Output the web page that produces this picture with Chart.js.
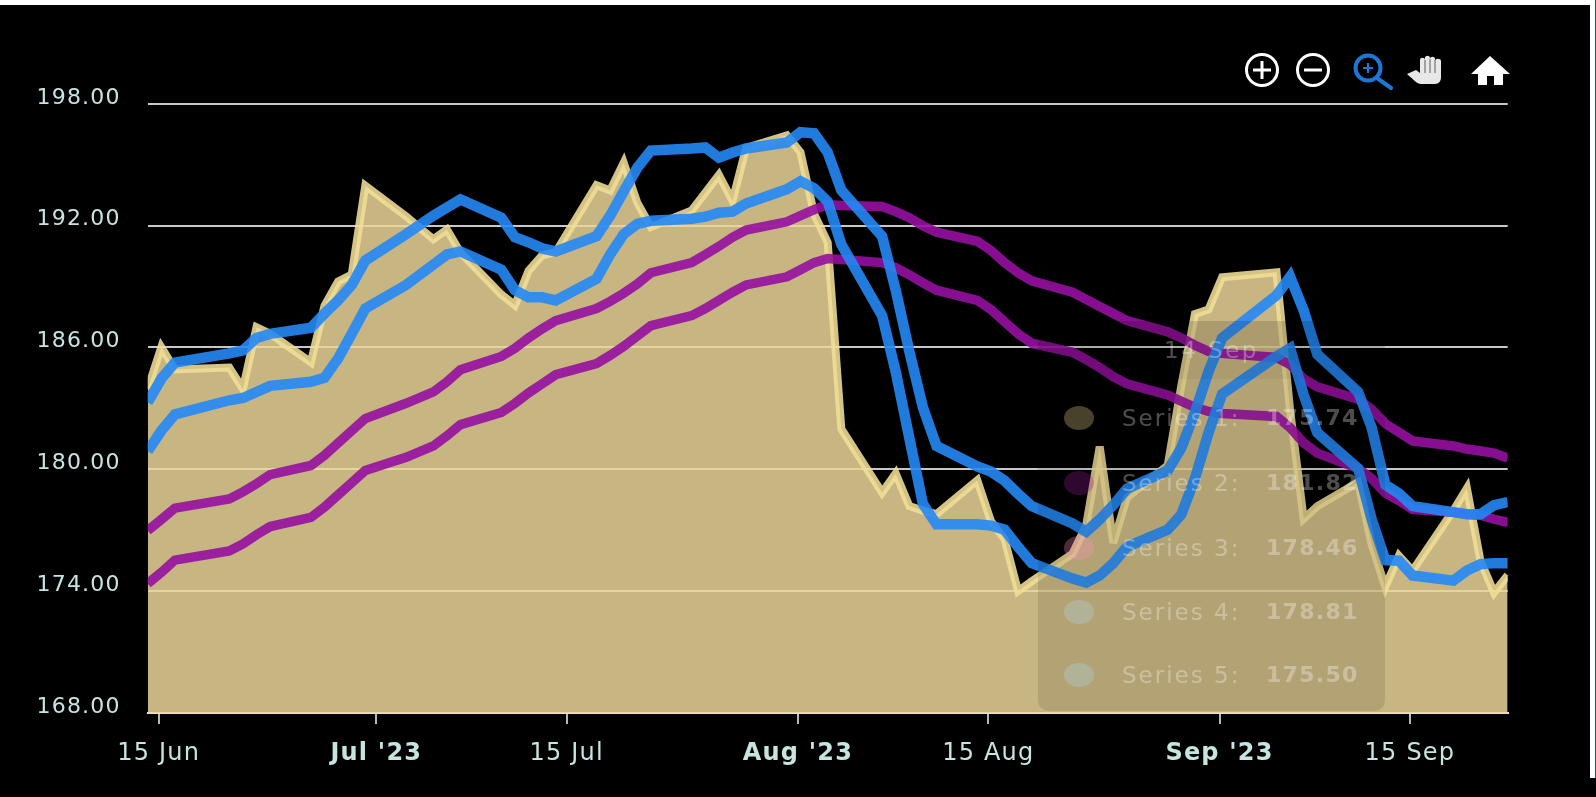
<!DOCTYPE html>
<html>
<head>
<meta charset="utf-8">
<title>Chart</title>
<script src="https://cdn.jsdelivr.net/npm/chart.js@4/dist/chart.umd.js"></script>
<style>
    html, body { margin: 0; padding: 0; background: #000; overflow: hidden; }
    #wrap { position: relative; width: 1596px; height: 797px; font-family: "DejaVu Sans", sans-serif; }
    canvas { display: block; }
    #stripTop { position: absolute; left: 0; top: 0; width: 1596px; height: 5px; background: #fff; }
    #stripRight { position: absolute; left: 1590px; top: 0; width: 5px; height: 778px; background: #fff; border-right: 1px solid #1c5a66; }
    #toolbar { position: absolute; left: 0; top: 0; }
    #tip { position: absolute; left: 1038px; top: 321px; width: 347px; height: 390px; border-radius: 10px; background: rgba(0,0,0,0.1); color: rgba(255,255,255,0.3); overflow: hidden; }
    #tipTitle { position: absolute; left: 0; top: 0; width: 347px; height: 58px; background: rgba(0,0,0,0.05); text-align: center; font-size: 23px; letter-spacing: 2.5px; line-height: 58px; }
    .row { position: absolute; left: 0; width: 347px; height: 30px; line-height: 30px; white-space: nowrap; }
    .dot { position: absolute; left: 26px; top: 3px; width: 30px; height: 24px; border-radius: 50%; }
    .name { position: absolute; left: 84px; top: 0; font-size: 23px; letter-spacing: 2px; }
    .val { position: absolute; left: 228px; top: 0; font-weight: bold; font-size: 22px; letter-spacing: 1.3px; }
</style>
</head>
<body>
<div id="wrap">
    <canvas id="stockChart" width="1596" height="797"></canvas>
    <div id="stripTop"></div>
    <div id="stripRight"></div>
    <svg id="toolbar" width="1596" height="100" fill="none">
        <g stroke="#fff" stroke-width="3">
            <circle cx="1262" cy="70" r="15.5"/>
            <path d="M1253 70h18M1262 61v18"/>
            <circle cx="1313" cy="70" r="15.5"/>
            <path d="M1304 70h18"/>
        </g>
        <g stroke="#1a78d6" stroke-width="4">
            <circle cx="1368" cy="68" r="12.5"/>
            <path d="M1377 78l14 10" stroke-linecap="round"/>
            <path d="M1363 68h10M1368 63v10" stroke-width="2"/>
        </g>
        <path d="M1407 74l9-4 4 3v-13c0-3 5-3 5 0v-2c0-3 5-3 5 0v1c0-3 5-3 5 0v2c0-3 6-3 6 0v16c0 4-2 7-6 7h-14c-4 0-7-4-14-10z" fill="#e8e8e8"/>
        <path d="M1425 60v13M1430 59v14M1435 60v13" stroke="#8a8a8a" stroke-width="1.5"/>
        <path d="M1490 56L1471 74h7v11h9v-9h7v9h9V74h7z" fill="#fff"/>
    </svg>
    <div id="tip"><div id="tipTitle"></div></div>
</div>
<script>
// Datos
const tradingDates = [
    '2023-06-14','2023-06-15','2023-06-16','2023-06-20','2023-06-21','2023-06-22','2023-06-23','2023-06-26','2023-06-27','2023-06-28','2023-06-29','2023-06-30',
    '2023-07-03','2023-07-05','2023-07-06','2023-07-07','2023-07-10','2023-07-11','2023-07-12','2023-07-13','2023-07-14',
    '2023-07-17','2023-07-18','2023-07-19','2023-07-20','2023-07-21','2023-07-24','2023-07-25','2023-07-26','2023-07-27','2023-07-28',
    '2023-07-31','2023-08-01','2023-08-02','2023-08-03','2023-08-04','2023-08-07','2023-08-08','2023-08-09','2023-08-10','2023-08-11',
    '2023-08-14','2023-08-15','2023-08-16','2023-08-17','2023-08-18','2023-08-21','2023-08-22','2023-08-23','2023-08-24','2023-08-25',
    '2023-08-28','2023-08-29','2023-08-30','2023-08-31','2023-09-01','2023-09-05','2023-09-06','2023-09-07','2023-09-08',
    '2023-09-11','2023-09-12','2023-09-13','2023-09-14','2023-09-15','2023-09-18','2023-09-19','2023-09-20','2023-09-21','2023-09-22'
];
const series1 = [183.95,186.01,184.92,185.01,183.96,187.00,186.68,185.27,188.06,189.25,189.59,193.97,
    192.46,191.33,191.81,190.68,188.61,188.08,189.77,190.54,190.69,
    193.99,193.73,195.10,193.13,191.94,192.75,193.62,194.50,193.22,195.83,
    196.45,195.61,192.58,191.17,181.99,178.85,179.80,178.19,177.97,177.79,
    179.46,177.45,176.57,174.00,174.49,175.84,177.23,181.12,176.38,178.61,
    180.19,184.12,187.65,187.87,189.46,189.70,182.91,177.56,178.18,
    179.36,176.30,174.21,175.74,175.01,177.97,179.07,175.49,173.93,174.79];
const series2 = [176.98,177.53,178.09,178.54,178.89,179.29,179.74,180.19,180.69,181.30,181.90,182.50,
    183.25,183.81,184.31,184.91,185.56,185.96,186.47,186.92,187.32,
    187.92,188.27,188.67,189.13,189.68,190.18,190.58,190.98,191.43,191.78,
    192.19,192.49,192.79,193.04,192.99,192.94,192.69,192.39,191.99,191.68,
    191.23,190.78,190.18,189.68,189.28,188.72,188.37,188.02,187.67,187.32,
    186.77,186.47,186.11,185.81,185.71,185.51,185.16,184.46,184.06,
    183.45,182.95,182.25,181.82,181.40,181.15,181.00,180.90,180.80,180.55];
const series3 = [174.37,174.92,175.53,175.98,176.33,176.78,177.18,177.63,178.14,178.74,179.34,179.94,
    180.59,181.15,181.65,182.20,182.80,183.25,183.76,184.21,184.66,
    185.21,185.61,186.06,186.57,187.07,187.57,187.92,188.32,188.72,189.08,
    189.48,189.83,190.18,190.38,190.33,190.18,189.93,189.58,189.18,188.82,
    188.32,187.87,187.27,186.67,186.21,185.76,185.41,185.01,184.56,184.21,
    183.66,183.35,183.05,182.85,182.75,182.60,182.05,181.30,180.80,
    180.04,179.54,178.84,178.46,178.03,177.89,177.79,177.74,177.54,177.39];
const series4 = [183.30,184.46,185.26,185.71,185.86,186.47,186.67,186.97,187.67,188.32,189.08,190.28,
    191.58,192.49,192.89,193.29,192.39,191.43,191.18,190.88,190.73,
    191.48,192.49,193.69,194.85,195.70,195.80,195.85,195.35,195.60,195.80,
    196.10,196.60,196.55,195.60,193.74,191.48,188.82,185.81,183.05,181.15,
    180.14,179.89,179.44,178.79,178.19,177.33,176.93,177.53,178.24,179.04,
    179.94,181.05,182.80,184.81,186.47,188.57,189.48,187.82,185.66,
    183.81,182.05,179.24,178.81,178.19,177.89,177.79,177.79,178.24,178.39];
const series5 = [180.90,181.90,182.70,183.40,183.51,183.81,184.11,184.31,184.51,185.46,186.67,187.92,
    189.08,190.08,190.58,190.73,189.83,188.82,188.47,188.47,188.32,
    189.38,190.58,191.58,192.09,192.24,192.34,192.44,192.64,192.69,193.09,
    193.79,194.19,193.84,193.19,191.08,187.57,184.81,181.55,178.29,177.29,
    177.29,177.23,177.03,176.18,175.38,174.62,174.42,174.77,175.38,176.18,
    177.03,177.78,179.54,181.80,183.71,185.56,185.96,183.66,181.80,
    180.04,177.53,175.53,175.50,174.77,174.52,175.02,175.33,175.38,175.38];

const seriesNames = ['Series 1', 'Series 2', 'Series 3', 'Series 4', 'Series 5'];
const tickDates = ['2023-06-15', '2023-07-01', '2023-07-15', '2023-08-01', '2023-08-15', '2023-09-01', '2023-09-15'];
const tickLabels = ['15 Jun', "Jul '23", '15 Jul', "Aug '23", '15 Aug', "Sep '23", '15 Sep'];
const yMin = 168, yMax = 198, yStep = 6;

document.addEventListener('DOMContentLoaded', function() {
    const allSeries = [series1, series2, series3, series4, series5];
    const lineColors = ['rgba(240,222,150,0.88)', 'rgba(150,15,160,0.9)', 'rgba(150,15,160,0.9)', 'rgba(36,136,245,0.9)', 'rgba(36,136,245,0.9)'];
    const lineWidths = [8, 9.5, 9.5, 10.5, 10.5];
    const dotColors = ['#f0dc96', '#9c1aa0', '#ff8fc0', '#a8d8ec', '#a8d8ec'];
    const tooltipDate = '2023-09-14';

    // Dias desde el 15 de junio; los puntos van un poco despues de medianoche
    const dayOf = function(d) {
        const p = d.split('-');
        return (Date.UTC(+p[0], +p[1] - 1, +p[2]) - Date.UTC(2023, 5, 15)) / 864e5;
    };
    const pointShift = 0.19;
    const tickValues = tickDates.map(dayOf);

    const datasets = allSeries.map(function(values, i) {
        return {
            label: seriesNames[i],
            data: values.map(function(v, k) { return { x: dayOf(tradingDates[k]) + pointShift, y: v }; }),
            borderColor: lineColors[i],
            borderWidth: lineWidths[i],
            backgroundColor: 'rgba(235,214,153,0.85)',
            fill: i === 0 ? 'start' : false,
            pointRadius: 0,
            tension: 0,
            borderJoinStyle: 'miter',
            order: 5 - i
        };
    });

    // Ajustes del contexto que Chart.js no expone
    const canvasTweaks = {
        id: 'canvasTweaks',
        beforeDraw: function(chart) {
            chart.ctx.miterLimit = 4;
            chart.ctx.letterSpacing = '1.2px';
        }
    };

    new Chart(document.getElementById('stockChart').getContext('2d'), {
        type: 'line',
        data: { datasets: datasets },
        plugins: [canvasTweaks],
        options: {
            responsive: false,
            animation: false,
            events: [],
            layout: { padding: { top: 103.8, right: 88.3, left: 0, bottom: 0 } },
            plugins: { legend: { display: false }, tooltip: { enabled: false } },
            scales: {
                x: {
                    type: 'linear',
                    min: dayOf(tradingDates[0]) + pointShift,
                    max: dayOf(tradingDates[tradingDates.length - 1]) + pointShift,
                    afterBuildTicks: function(scale) {
                        scale.ticks = tickValues.map(function(v, i) { return { value: v, major: tickLabels[i].indexOf("'") >= 0 }; });
                    },
                    afterFit: function(scale) { scale.height = 84; },
                    border: { color: '#e8e2cc', width: 2 },
                    grid: { drawOnChartArea: false, color: '#b8b8b8', lineWidth: 2, tickLength: 11 },
                    ticks: {
                        autoSkip: false,
                        maxRotation: 0,
                        padding: 15,
                        color: '#c6e4e0',
                        font: function(ctx) {
                            return { family: 'DejaVu Sans', size: 24, weight: ctx.tick && ctx.tick.major ? 'bold' : 'normal' };
                        },
                        callback: function(value) { return tickLabels[tickValues.indexOf(value)]; }
                    }
                },
                y: {
                    min: yMin,
                    max: yMax,
                    afterFit: function(scale) { scale.width = 147.7; },
                    border: { display: false },
                    grid: { color: '#c8c8c8', lineWidth: 2, drawTicks: false },
                    ticks: {
                        stepSize: yStep,
                        padding: 27,
                        labelOffset: -6,
                        color: '#c6e4e0',
                        font: { family: 'DejaVu Sans', size: 22 },
                        callback: function(value) { return value.toFixed(2); }
                    }
                }
            }
        }
    });

    // Tooltip medio desvanecido, como en la captura
    const tip = document.getElementById('tip');
    const idx = tradingDates.indexOf(tooltipDate);
    const rowTops = [82, 147, 212, 276, 339];
    document.getElementById('tipTitle').textContent = '14 Sep';
    allSeries.forEach(function(values, i) {
        const row = document.createElement('div');
        row.className = 'row';
        row.style.top = rowTops[i] + 'px';
        row.innerHTML = '<span class="dot" style="background:' + dotColors[i] + ';opacity:0.3"></span>' +
            '<span class="name">' + seriesNames[i] + ':</span>' +
            '<span class="val">' + values[idx].toFixed(2) + '</span>';
        tip.appendChild(row);
    });
});
</script>
</body>
</html>
